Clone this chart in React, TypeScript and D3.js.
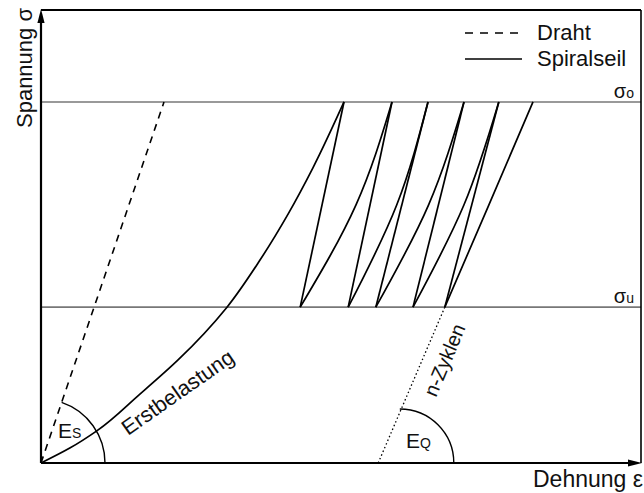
import React, { useEffect, useRef } from 'react';
import * as d3 from 'd3';

// values, both axes in % of axis length
const sigmaO = 79.7;
const sigmaU = 34.4;
const sigmaMid = 57;

// first loading of the spiral rope (Erstbelastung)
const firstLoadEps = [0, 4.8, 9.3, 16.3, 22.8, 31.0, 36.5, 41.2, 45.3, 50.5];
const firstLoadSig = [0, 3.3, 7.1, 15.0, 22.7, 34.4, 44.8, 55.0, 65.1, 79.7];

// single wire (Draht)
const wireEps = [0, 20.5];
const wireSig = [0, 79.7];

// load cycles between sigma_u and sigma_o
const peakEps = [50.5, 58.5, 64.5, 70.5, 76.3, 82.0];
const valleyEps = [43.2, 51.2, 55.8, 62.0, 67.3];
const reloadMidEps = [52.5, 59.3, 64.6, 70.5, 74.65];

// n-Zyklen secant and E_Q arc
const cycleFootEps = 56.2;
const eqCenterEps = 59.8;

const legendLabels = ['Draht', 'Spiralseil'];

const width = 644;
const height = 493;
const font = "'Liberation Sans', Arial, Helvetica, sans-serif";

const App: React.FC = () => {
  const svgRef = useRef<SVGSVGElement>(null);

  useEffect(() => {
    if (!svgRef.current) return;
    const svg = d3.select(svgRef.current);
    svg.selectAll('*').remove();

    const x = d3.scaleLinear().domain([0, 100]).range([41, 641]);
    const y = d3.scaleLinear().domain([0, 100]).range([463, 10]);

    const line = d3.line<[number, number]>()
      .x(d => x(d[0]))
      .y(d => y(d[1]));
    const smooth = d3.line<[number, number]>()
      .x(d => x(d[0]))
      .y(d => y(d[1]))
      .curve(d3.curveNatural);
    const monotone = d3.line<[number, number]>()
      .x(d => x(d[0]))
      .y(d => y(d[1]))
      .curve(d3.curveMonotoneY);

    const g = svg.append('g');

    // sigma_o / sigma_u levels
    [sigmaO, sigmaU].forEach(s => {
      g.append('line')
        .attr('x1', x(0)).attr('x2', x(100))
        .attr('y1', y(s)).attr('y2', y(s))
        .attr('stroke', '#777').attr('stroke-width', 1.6);
    });

    // frame
    g.append('line').attr('x1', x(0)).attr('x2', x(100)).attr('y1', y(100)).attr('y2', y(100))
      .attr('stroke', '#000').attr('stroke-width', 2);
    g.append('line').attr('x1', x(100)).attr('x2', x(100)).attr('y1', y(100)).attr('y2', y(0))
      .attr('stroke', '#000').attr('stroke-width', 1.6);
    g.append('line').attr('x1', x(0)).attr('x2', x(0)).attr('y1', y(0)).attr('y2', y(100) + 8)
      .attr('stroke', '#000').attr('stroke-width', 2.2);
    g.append('line').attr('x1', x(0)).attr('x2', x(100) - 8).attr('y1', y(0)).attr('y2', y(0))
      .attr('stroke', '#000').attr('stroke-width', 2.2);
    // arrow heads
    g.append('path')
      .attr('d', `M${x(0)},${y(100) - 1} L${x(0) - 3.6},${y(100) + 13} L${x(0) + 3.6},${y(100) + 13} Z`)
      .attr('fill', '#000');
    g.append('path')
      .attr('d', `M${x(100) + 1},${y(0)} L${x(100) - 13},${y(0) - 3.6} L${x(100) - 13},${y(0) + 3.6} Z`)
      .attr('fill', '#000');

    // wire, dashed
    g.append('path')
      .datum(wireEps.map((e, i) => [e, wireSig[i]] as [number, number]))
      .attr('d', line)
      .attr('fill', 'none').attr('stroke', '#000').attr('stroke-width', 1.6)
      .attr('stroke-dasharray', '7,6');

    // first loading
    g.append('path')
      .datum(firstLoadEps.map((e, i) => [e, firstLoadSig[i]] as [number, number]))
      .attr('d', monotone)
      .attr('fill', 'none').attr('stroke', '#000').attr('stroke-width', 1.7);

    // cycles
    valleyEps.forEach((v, i) => {
      g.append('path')
        .datum([[peakEps[i], sigmaO], [v, sigmaU]] as [number, number][])
        .attr('d', line)
        .attr('fill', 'none').attr('stroke', '#000').attr('stroke-width', 1.7);
      g.append('path')
        .datum([[v, sigmaU], [reloadMidEps[i], sigmaMid], [peakEps[i + 1], sigmaO]] as [number, number][])
        .attr('d', smooth)
        .attr('fill', 'none').attr('stroke', '#000').attr('stroke-width', 1.7);
    });

    // n-Zyklen secant, dotted
    const lastValley = valleyEps[valleyEps.length - 1];
    g.append('path')
      .datum([[cycleFootEps, 0], [lastValley, sigmaU]] as [number, number][])
      .attr('d', line)
      .attr('fill', 'none').attr('stroke', '#000').attr('stroke-width', 1.3)
      .attr('stroke-dasharray', '1.5,2.5');

    // E_S arc
    const wireAngle = Math.atan2(y(0) - y(wireSig[1]), x(wireEps[1]) - x(0));
    const esR = 64;
    const pEs = d3.path();
    pEs.moveTo(x(0) + esR, y(0));
    pEs.arc(x(0), y(0), esR, 0, -wireAngle, true);
    g.append('path').attr('d', pEs.toString())
      .attr('fill', 'none').attr('stroke', '#000').attr('stroke-width', 1.4);

    // E_Q arc
    const eqR = 54;
    const pEq = d3.path();
    pEq.moveTo(x(eqCenterEps) + eqR, y(0));
    pEq.arc(x(eqCenterEps), y(0), eqR, 0, -Math.PI / 2, true);
    g.append('path').attr('d', pEq.toString())
      .attr('fill', 'none').attr('stroke', '#000').attr('stroke-width', 1.4);

    // legend
    const legend = g.append('g');
    legendLabels.forEach((lab, i) => {
      const ly = 33 + i * 26;
      legend.append('line')
        .attr('x1', 465).attr('x2', 522).attr('y1', ly).attr('y2', ly)
        .attr('stroke', '#000').attr('stroke-width', 1.6)
        .attr('stroke-dasharray', i === 0 ? '8,7' : null);
      legend.append('text')
        .attr('x', 537).attr('y', ly + 7)
        .attr('font-family', font).attr('font-size', 22).attr('fill', '#111')
        .text(lab);
    });

    // level labels
    const levelLabel = (s: number, sub: string) => {
      const t = g.append('text')
        .attr('x', 634).attr('y', y(s) - 4)
        .attr('text-anchor', 'end')
        .attr('font-family', font).attr('fill', '#111');
      t.append('tspan').attr('font-size', 20).text('σ');
      t.append('tspan').attr('font-size', 14).text(sub);
    };
    levelLabel(sigmaO, 'o');
    levelLabel(sigmaU, 'u');

    // moduli labels
    const modLabel = (px: number, py: number, sub: string) => {
      const t = g.append('text')
        .attr('x', px).attr('y', py)
        .attr('font-family', font).attr('fill', '#111');
      t.append('tspan').attr('font-size', 21).text('E');
      t.append('tspan').attr('font-size', 14).text(sub);
    };
    modLabel(58, 438, 'S');
    modLabel(406, 448, 'Q');

    // rotated annotations
    g.append('text')
      .attr('transform', 'translate(128,436) rotate(-35)')
      .attr('font-family', font).attr('font-size', 21.5).attr('fill', '#111')
      .text('Erstbelastung');
    g.append('text')
      .attr('transform', 'translate(436,398) rotate(-67)')
      .attr('font-family', font).attr('font-size', 20).attr('fill', '#111')
      .text('n-Zyklen');

    // axis titles
    g.append('text')
      .attr('transform', 'translate(32,8) rotate(-90)')
      .attr('text-anchor', 'end')
      .attr('font-family', font).attr('font-size', 22).attr('fill', '#111')
      .text('Spannung σ');
    g.append('text')
      .attr('x', 643).attr('y', 487)
      .attr('text-anchor', 'end')
      .attr('font-family', font).attr('font-size', 23).attr('fill', '#111')
      .text('Dehnung ε');
  }, []);

  return (
    <svg ref={svgRef} width={width} height={height}
      style={{ position: 'absolute', left: 0, top: 0, background: '#fff' }} />
  );
};

export default App;
